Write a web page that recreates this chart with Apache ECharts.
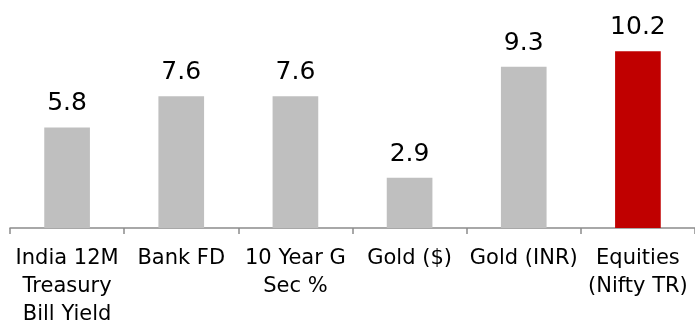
<!DOCTYPE html>
<html>
<head>
<meta charset="utf-8">
<script src="https://cdn.jsdelivr.net/npm/echarts@6/dist/echarts.min.js"></script>
<style>
  html, body { margin: 0; padding: 0; background: #fff; }
  #main { width: 695px; height: 329px; }
</style>
</head>
<body>
<div id="main"></div>
<script>
// categories and returns (%)
var categories = ['India 12M\nTreasury\nBill Yield', 'Bank FD', '10 Year G\nSec %', 'Gold ($)', 'Gold (INR)', 'Equities\n(Nifty TR)'];
var values = [5.8, 7.6, 7.6, 2.9, 9.3, 10.2];
var highlightIndex = 5;

var chart = echarts.init(document.getElementById('main'));
chart.setOption({
  animation: false,
  textStyle: { fontFamily: 'DejaVu Sans' },
  grid: { left: 10, top: 20, width: 688, height: 209 },
  xAxis: {
    type: 'category',
    data: categories,
    axisLine: { lineStyle: { color: '#8c8c8c', width: 1.5 } },
    axisTick: { show: true, length: 6, lineStyle: { color: '#8c8c8c', width: 1.5 } },
    axisLabel: {
      interval: 0,
      color: '#000',
      fontSize: 21,
      lineHeight: 28,
      margin: 17,
      align: 'center'
    }
  },
  yAxis: {
    type: 'value',
    min: 0,
    max: 12,
    show: false,
    splitLine: { show: false }
  },
  series: [{
    type: 'bar',
    barWidth: '40%',
    data: values.map(function (v, i) {
      return { value: v, itemStyle: { color: i === highlightIndex ? '#C00000' : '#BFBFBF' } };
    }),
    label: {
      show: true,
      position: 'top',
      distance: 11,
      color: '#000',
      fontSize: 25,
      formatter: function (p) { return p.value.toFixed(1); }
    }
  }]
});
</script>
</body>
</html>
